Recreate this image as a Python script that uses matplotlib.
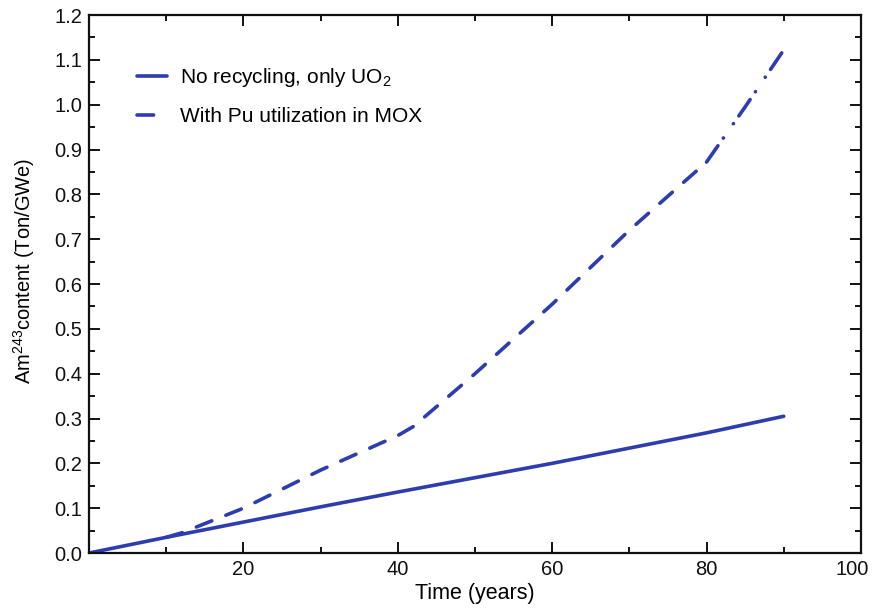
import matplotlib
matplotlib.use("Agg")
import matplotlib.pyplot as plt
from matplotlib.ticker import MultipleLocator, FormatStrFormatter
from matplotlib.transforms import ScaledTranslation

plt.rcParams['font.family'] = ['Liberation Sans', 'DejaVu Sans']
plt.rcParams['mathtext.default'] = 'regular'

# Am-243 inventory per GWe over time
years_uo2 = [0, 10, 20, 30, 40, 50, 60, 70, 80, 90]
am_uo2 = [0.0, 0.035, 0.069, 0.103, 0.136, 0.168, 0.200, 0.234, 0.268, 0.305]

years_mox = [10, 12, 20, 30, 40, 42, 50, 60, 70, 80]
am_mox = [0.035, 0.045, 0.100, 0.185, 0.262, 0.282, 0.400, 0.555, 0.720, 0.872]

# late MOX period
years_mox_late = [80, 85, 90]
am_mox_late = [0.872, 0.995, 1.122]

x_ticks = [20, 40, 60, 80, 100]

label_uo2 = "No recycling, only UO$_2$"
label_mox = "With Pu utilization in MOX"

color = '#2d3cae'
lw = 2.6

fig = plt.figure(figsize=(8.74, 6.15), dpi=100)
ax = fig.add_axes([0.102, 0.1008, 0.883, 0.8748])

ax.plot(years_uo2, am_uo2, color=color, lw=lw, solid_capstyle='round',
        label=label_uo2)
ax.plot(years_mox, am_mox, color=color, lw=lw, dashes=(4.6, 4.2),
        dash_capstyle='round', label=label_mox)
ax.plot(years_mox_late, am_mox_late, color=color, lw=lw,
        dashes=(5.5, 2.6, 0.05, 4.8, 0.05, 2.6), dash_capstyle='round')

ax.set_xlim(0, 100)
ax.set_ylim(0, 1.2)
ax.set_xticks(x_ticks)
ax.xaxis.set_minor_locator(MultipleLocator(10))
ax.yaxis.set_major_locator(MultipleLocator(0.1))
ax.yaxis.set_minor_locator(MultipleLocator(0.05))
ax.yaxis.set_major_formatter(FormatStrFormatter('%.1f'))

ax.tick_params(which='both', direction='in', top=True, right=True,
               width=1.4, labelsize=14.5, colors='#111111')
ax.tick_params(which='major', length=8, pad=5)
ax.tick_params(which='minor', length=4.5)
for s in ax.spines.values():
    s.set_linewidth(1.6)
    s.set_color('#111111')

# keep the last x tick label inside the figure
last = ax.get_xticklabels()[-1]
last.set_transform(last.get_transform()
                   + ScaledTranslation(-0.09, 0, fig.dpi_scale_trans))

ax.set_xlabel("Time (years)", fontsize=15.5, labelpad=3)
ax.set_ylabel("Am$^{243}$content (Ton/GWe)", fontsize=14.5)
ax.yaxis.set_label_coords(-0.068, 0.524)

ax.legend(loc='upper left', bbox_to_anchor=(0.062, 0.905), frameon=False,
          fontsize=15, handlelength=1.45, handletextpad=0.63,
          labelspacing=0.85, borderpad=0, borderaxespad=0)

fig.savefig("out.png", dpi=100)
